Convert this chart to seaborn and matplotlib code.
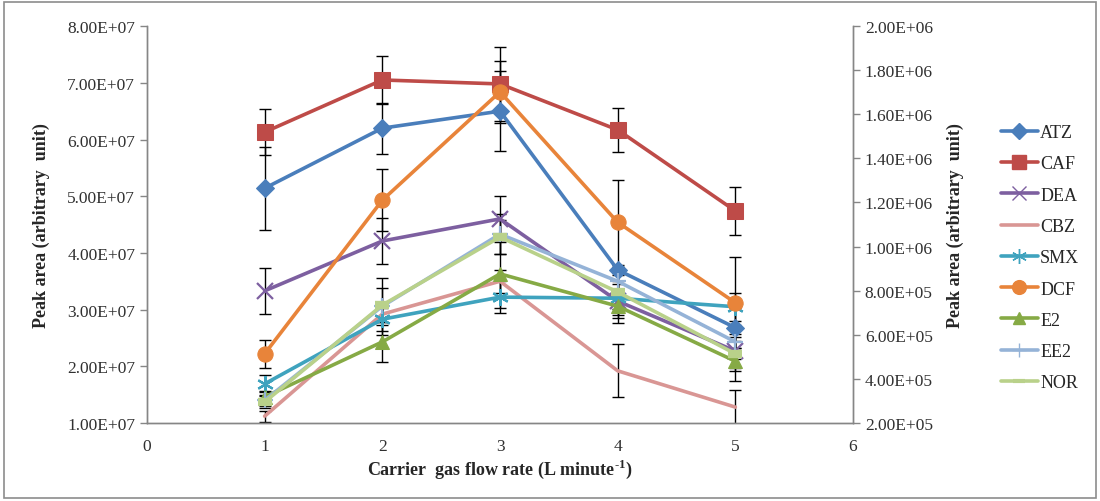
import matplotlib
matplotlib.use("Agg")
import matplotlib.pyplot as plt
import matplotlib.ticker as mticker
from matplotlib.patches import Rectangle
from matplotlib.lines import Line2D
import numpy as np
import pandas as pd
import seaborn as sns

# ---- data (left-axis units) ----
flow = [1, 2, 3, 4, 5]
series = ["ATZ", "CAF", "DEA", "CBZ", "SMX", "DCF", "E2", "EE2", "NOR"]

ATZ = [5.14e7, 6.20e7, 6.50e7, 3.70e7, 2.68e7]
CAF = [6.13e7, 7.05e7, 6.98e7, 6.17e7, 4.74e7]
DEA = [3.33e7, 4.21e7, 4.60e7, 3.15e7, 2.27e7]
CBZ = [1.12e7, 2.92e7, 3.50e7, 1.92e7, 1.28e7]
SMX = [1.69e7, 2.83e7, 3.22e7, 3.20e7, 3.05e7]
DCF = [2.22e7, 4.93e7, 6.84e7, 4.54e7, 3.12e7]
E2 = [1.46e7, 2.43e7, 3.63e7, 3.06e7, 2.09e7]
EE2 = [1.40e7, 3.06e7, 4.33e7, 3.50e7, 2.43e7]
NOR = [1.37e7, 3.08e7, 4.28e7, 3.31e7, 2.22e7]

ATZ_err = [0.73e7, 0.45e7, 0.70e7, 0.05e7, 0.35e7]
CAF_err = [0.40e7, 0.42e7, 0.65e7, 0.39e7, 0.42e7]
DEA_err = [0.40e7, 0.40e7, 0.40e7, 0.30e7, 0.30e7]
CBZ_err = [0.10e7, 0.20e7, 0.20e7, 0.47e7, 0.30e7]
SMX_err = [0.15e7, 0.20e7, 0.28e7, 0.30e7, 0.25e7]
DCF_err = [0.25e7, 0.55e7, 0.55e7, 0.75e7, 0.80e7]
E2_err = [0.10e7, 0.35e7, 0.60e7, 0.30e7, 0.35e7]
EE2_err = [0.10e7, 0.50e7, 0.35e7, 0.25e7, 0.30e7]
NOR_err = [0.10e7, 0.30e7, 0.30e7, 0.30e7, 0.30e7]

values = dict(ATZ=ATZ, CAF=CAF, DEA=DEA, CBZ=CBZ, SMX=SMX, DCF=DCF, E2=E2, EE2=EE2, NOR=NOR)
errors = dict(ATZ=ATZ_err, CAF=CAF_err, DEA=DEA_err, CBZ=CBZ_err, SMX=SMX_err,
              DCF=DCF_err, E2=E2_err, EE2=EE2_err, NOR=NOR_err)

left_ticks = [1e7, 2e7, 3e7, 4e7, 5e7, 6e7, 7e7, 8e7]
right_ticks = [2e5, 4e5, 6e5, 8e5, 1e6, 1.2e6, 1.4e6, 1.6e6, 1.8e6, 2e6]
x_ticks = [0, 1, 2, 3, 4, 5, 6]

# ---- styles ----
ASTERISK = (6, 2, 0)
colors = dict(ATZ="#4A7EBB", CAF="#BE4B48", DEA="#7D5FA0", CBZ="#D99694", SMX="#3FA3BE",
              DCF="#E8843A", E2="#86AA45", EE2="#95B3D7", NOR="#B9D18A")
markers = dict(ATZ="D", CAF="s", DEA="x", CBZ=None, SMX=ASTERISK, DCF="o", E2="^", EE2="+", NOR="_")
msizes = dict(ATZ=9, CAF=11, DEA=11, CBZ=0, SMX=12, DCF=11, E2=10, EE2=11, NOR=10)
thin = ("x", "+", ASTERISK)

sns.set_theme(style="white")
plt.rcParams["font.family"] = ["Liberation Serif", "DejaVu Serif"]
plt.rcParams["mathtext.fontset"] = "custom"
plt.rcParams["mathtext.rm"] = "Liberation Serif"
plt.rcParams["mathtext.bf"] = "Liberation Serif:bold"

df = pd.DataFrame([(s, x, y, e) for s in series for x, y, e in zip(flow, values[s], errors[s])],
                  columns=["series", "flow", "area", "err"])

fig = plt.figure(figsize=(11, 5.02), dpi=100)
ax = fig.add_axes([0.1336, 0.1554, 0.7755 - 0.1336, 0.946 - 0.1554])

for s in series:
    d = df[df.series == s]
    ax.errorbar(d["flow"], d["area"], yerr=d["err"], fmt="none", ecolor="black",
                elinewidth=1.0, capsize=4, capthick=1.0, zorder=2)
    m = markers[s]
    kw = dict(marker=m, markersize=msizes[s], markeredgecolor=colors[s], markerfacecolor=colors[s])
    if m in thin:
        kw["markeredgewidth"] = 1.6
    if m == "_":
        kw["markeredgewidth"] = 6
    if m is None:
        kw = dict(marker=None)
    sns.lineplot(data=d, x="flow", y="area", ax=ax, color=colors[s], linewidth=2.6,
                 errorbar=None, zorder=3, **kw)

ax.set_xlim(0, 6)
ax.set_ylim(1e7, 8e7)
ax.set_xticks(x_ticks)
ax.set_yticks(left_ticks)
ax.yaxis.set_major_formatter(mticker.FormatStrFormatter("%.2E"))
ax.set_xlabel("Carrier  gas flow rate (L minute$^{\\mathbf{\u20101}}$)", fontsize=13,
              fontweight="bold", labelpad=2)
ax.set_ylabel("Peak area (arbitrary  unit)", fontsize=13, fontweight="bold", labelpad=12)

ax2 = ax.twinx()
ax2.set_ylim(2e5, 2e6)
ax2.set_yticks(right_ticks)
ax2.yaxis.set_major_formatter(mticker.FormatStrFormatter("%.2E"))
ax2.set_ylabel("Peak area (arbitrary  unit)", fontsize=13, fontweight="bold", labelpad=10)

spine_c = "#868686"
for a in (ax, ax2):
    a.spines["top"].set_visible(False)
    for sp in ("left", "right", "bottom"):
        a.spines[sp].set_color(spine_c)
        a.spines[sp].set_linewidth(1.0)
    a.tick_params(axis="both", which="major", labelsize=12.5, labelcolor="#303030",
                  length=5, width=1.0, direction="out", color=spine_c)
    a.grid(False)
ax.tick_params(axis="x", pad=6)

handles = []
for s in series:
    m = markers[s]
    kw = dict(marker=m, markersize=msizes[s] * 0.9, markeredgecolor=colors[s], markerfacecolor=colors[s])
    if m in thin:
        kw["markeredgewidth"] = 1.0
    if m == "_":
        kw["markeredgewidth"] = 3
    if m is None:
        kw = {}
    handles.append(Line2D([0], [0], color=colors[s], linewidth=2.6, **kw))
fig.legend(handles, series, loc="upper left", bbox_to_anchor=(0.903, 0.765), frameon=False,
           fontsize=13, handlelength=2.1, handletextpad=0.1, labelspacing=0.79, borderaxespad=0)

fig.patches.append(Rectangle((0.004, 0.006), 0.992, 0.988, transform=fig.transFigure,
                             fill=False, edgecolor="#8c8c8c", linewidth=1.2))

fig.savefig("out.png", dpi=100)
